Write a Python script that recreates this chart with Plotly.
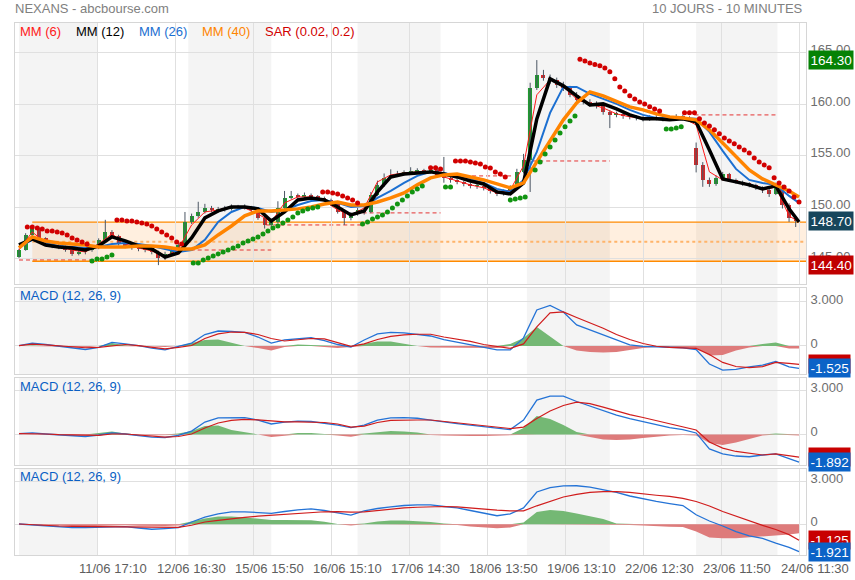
import plotly.graph_objects as go

# ---------------- DATA ----------------
# 10-minute bar index (0 = first bar of 11/06); candles aggregated every 4 bars
candle_bar = list(range(0, 472, 4))
opens = [145.20, 145.87, 147.33, 148.01, 147.04, 146.46, 146.26, 146.17, 145.87, 145.49,
         145.68, 145.87, 146.07, 146.85, 147.62, 147.23, 146.46, 146.26, 146.07, 145.97,
         145.87, 145.68, 145.10, 145.49, 145.87, 146.36, 148.59, 149.18, 149.56, 149.95,
         149.76, 149.76, 149.86, 150.05, 149.95, 150.05, 149.76, 148.98, 148.30, 148.59,
         149.95, 150.92, 151.12, 151.02, 151.22, 151.02, 150.92, 150.73, 150.34, 149.56,
         148.98, 149.37, 149.76, 149.56, 151.22, 152.19, 152.87, 153.06, 153.25, 153.35,
         153.45, 153.55, 153.45, 153.64, 153.16, 152.87, 152.67, 152.48, 152.28, 152.09,
         152.09, 151.90, 151.60, 151.31, 151.51, 151.90, 153.45, 154.61, 161.61, 162.87,
         162.58, 162.38, 161.90, 161.61, 160.93, 160.44, 160.25, 160.05, 159.86, 159.27,
         158.98, 159.08, 158.89, 158.79, 158.69, 158.60, 158.69, 158.69, 158.60, 158.69,
         158.79, 158.69, 155.78, 154.13, 152.67, 152.28, 152.87, 153.25, 152.67, 152.48,
         152.28, 152.19, 151.90, 151.70, 151.31, 152.09, 150.24, 148.98]
highs = [146.00, 147.50, 148.25, 148.10, 147.10, 146.60, 146.45, 146.30, 146.00, 145.85,
         146.05, 146.25, 147.00, 148.80, 147.80, 147.35, 146.60, 146.40, 146.25, 146.15,
         146.00, 145.80, 145.70, 146.05, 146.60, 149.56, 149.40, 150.55, 150.35, 150.15,
         150.05, 150.15, 150.30, 150.25, 150.30, 150.15, 149.85, 149.10, 148.90, 150.60,
         151.60, 151.60, 151.35, 151.45, 151.35, 151.20, 151.05, 150.85, 150.45, 149.70,
         149.55, 149.95, 150.00, 151.50, 152.60, 153.30, 153.70, 153.55, 153.60, 153.90,
         153.80, 153.75, 153.95, 153.75, 154.90, 153.00, 152.80, 152.60, 152.40, 152.35,
         152.20, 152.05, 151.70, 151.75, 152.15, 153.75, 155.20, 162.10, 164.30, 163.35,
         162.90, 162.60, 162.20, 161.80, 161.20, 160.70, 160.50, 160.30, 160.00, 159.45,
         159.30, 159.25, 159.10, 158.95, 158.90, 158.95, 158.95, 158.90, 158.90, 159.05,
         159.00, 158.85, 156.30, 154.40, 152.90, 153.10, 153.45, 153.35, 152.80, 152.60,
         152.45, 152.30, 152.05, 151.80, 152.40, 152.20, 150.40, 149.10]
lows = [145.10, 145.80, 147.20, 146.90, 146.30, 146.05, 145.95, 145.70, 145.30, 145.35,
        145.45, 145.70, 145.95, 146.70, 147.00, 146.30, 146.05, 145.90, 145.75, 145.65,
        145.45, 144.40, 144.90, 145.35, 145.70, 146.20, 148.40, 149.00, 149.40, 149.55,
        149.50, 149.60, 149.70, 149.75, 149.80, 149.55, 148.80, 147.95, 148.10, 148.45,
        149.85, 150.80, 150.80, 150.90, 150.85, 150.70, 150.55, 150.15, 149.40, 148.30,
        148.75, 149.20, 149.30, 149.45, 151.10, 152.00, 152.75, 152.95, 153.10, 153.15,
        153.30, 153.25, 153.30, 152.95, 152.40, 152.40, 152.25, 152.05, 151.85, 151.80,
        151.65, 151.35, 151.10, 151.15, 151.35, 151.80, 153.30, 151.50, 161.40, 162.30,
        162.00, 161.60, 161.30, 160.70, 160.20, 160.00, 159.80, 159.60, 159.00, 157.70,
        158.75, 158.60, 158.55, 158.45, 158.35, 158.40, 158.45, 158.35, 158.45, 158.55,
        158.45, 158.30, 153.40, 152.00, 152.00, 152.10, 152.70, 152.50, 152.30, 152.10,
        151.95, 151.70, 151.40, 151.02, 151.20, 149.90, 148.60, 148.10]
closes = [145.87, 147.33, 148.01, 147.04, 146.46, 146.26, 146.17, 145.87, 145.49, 145.68,
          145.87, 146.07, 146.85, 147.62, 147.23, 146.46, 146.26, 146.07, 145.97, 145.87,
          145.68, 145.10, 145.49, 145.87, 146.36, 148.59, 149.18, 149.56, 149.95, 149.76,
          149.76, 149.86, 150.05, 149.95, 150.05, 149.76, 148.98, 148.30, 148.59, 149.95,
          150.92, 151.12, 151.02, 151.22, 151.02, 150.92, 150.73, 150.34, 149.56, 148.98,
          149.37, 149.76, 149.56, 151.22, 152.19, 152.87, 153.06, 153.25, 153.35, 153.45,
          153.55, 153.45, 153.64, 153.16, 152.87, 152.67, 152.48, 152.28, 152.09, 152.09,
          151.90, 151.60, 151.31, 151.51, 151.90, 153.45, 154.61, 161.61, 162.87, 162.58,
          162.38, 161.90, 161.61, 160.93, 160.44, 160.25, 160.05, 159.86, 159.27, 158.98,
          159.08, 158.89, 158.79, 158.69, 158.60, 158.69, 158.69, 158.60, 158.69, 158.79,
          158.69, 158.50, 154.13, 152.67, 152.28, 152.87, 153.25, 152.67, 152.48, 152.28,
          152.19, 151.90, 151.70, 151.31, 152.09, 150.24, 148.98, 148.70]

# indicator samples every 8 bars
line_bar = list(range(0, 465, 8)) + [470]
mm6 = [145.87, 147.62, 146.55, 146.17, 145.87, 145.68, 146.46, 147.43, 146.46, 146.07,
       145.78, 145.19, 145.97, 148.30, 149.56, 149.76, 150.05, 149.95, 149.37, 148.59,
       150.44, 151.02, 151.02, 150.63, 149.76, 149.27, 149.95, 152.48, 153.16, 153.35,
       153.45, 153.45, 152.96, 152.57, 152.19, 151.90, 151.41, 151.70, 154.03, 160.93,
       162.38, 161.70, 160.53, 160.05, 159.66, 159.08, 158.79, 158.69, 158.69, 158.69,
       158.69, 158.01, 153.45, 152.67, 152.48, 152.19, 151.70, 151.99, 149.18, 148.59]
mm12 = [146.36, 146.94, 146.36, 146.17, 146.07, 145.87, 146.26, 147.14, 146.75, 146.26,
        145.97, 145.19, 145.58, 147.04, 148.98, 149.66, 150.05, 150.05, 149.86, 148.69,
        149.56, 150.73, 150.92, 150.73, 150.05, 149.27, 149.66, 151.51, 152.96, 153.25,
        153.35, 153.45, 153.25, 152.96, 152.57, 152.28, 151.51, 151.31, 152.38, 158.60,
        162.48, 161.80, 160.83, 159.95, 160.05, 159.56, 158.98, 158.60, 158.60, 158.50,
        158.60, 158.30, 155.58, 152.77, 152.48, 152.19, 151.80, 152.09, 149.86, 148.59]
mm26 = [146.17, 146.85, 146.55, 146.26, 146.17, 146.07, 146.17, 146.46, 146.55, 146.46,
        146.26, 145.97, 145.68, 145.87, 146.85, 148.59, 149.56, 150.05, 149.95, 149.56,
        149.76, 150.24, 150.63, 150.73, 150.44, 150.05, 150.15, 150.92, 151.60, 152.38,
        153.06, 153.45, 153.35, 153.06, 152.77, 152.38, 151.80, 151.51, 152.67, 155.39,
        159.18, 161.70, 161.70, 161.02, 160.53, 160.05, 159.47, 158.98, 158.69, 158.69,
        158.69, 158.60, 157.33, 155.49, 153.74, 152.67, 152.38, 152.19, 151.12, 150.44]
mm40 = [146.07, 147.14, 146.75, 146.55, 146.46, 146.36, 146.17, 146.17, 146.17, 146.26,
        146.26, 146.17, 145.97, 145.97, 146.36, 147.33, 148.20, 149.18, 149.66, 149.66,
        149.76, 149.86, 150.05, 150.34, 150.53, 150.24, 150.24, 150.53, 150.92, 151.41,
        152.19, 152.87, 153.16, 153.25, 152.96, 152.67, 152.28, 151.90, 152.38, 154.42,
        156.36, 158.50, 160.15, 161.21, 160.83, 160.34, 159.76, 159.47, 159.08, 158.79,
        158.69, 158.50, 157.53, 156.26, 155.00, 153.64, 152.77, 152.19, 151.60, 151.02]

sar_red_bar = [5, 8, 11, 14, 17, 20, 23, 26, 29, 32, 35, 38, 41,
               59, 62, 65, 68, 71, 74, 77, 80, 83, 86, 89, 92, 95, 98,
               183, 186, 189, 192, 195, 198, 201, 204,
               248, 251, 254,
               263, 266, 269, 272, 275, 278, 281, 284, 287, 290, 293,
               338, 341, 344, 347, 350, 353, 356, 359, 362, 365, 368, 371, 374, 377, 380, 383, 386,
               401, 404, 407, 410, 413, 416, 419, 422, 425, 428, 431, 434, 437, 440, 443, 446,
               449, 452, 455, 458, 461, 464, 467, 470]
sar_red = [148.11, 148.11, 148.01, 147.91, 147.72, 147.72, 147.62, 147.52, 147.33, 147.04, 146.85, 146.65, 146.46,
           148.79, 148.79, 148.69, 148.69, 148.59, 148.50, 148.40, 148.20, 147.91, 147.62, 147.33, 147.04, 146.65, 146.46,
           151.51, 151.51, 151.41, 151.31, 151.12, 150.92, 150.73, 150.44,
           153.84, 153.84, 153.74,
           154.51, 154.51, 154.51, 154.42, 154.32, 154.22, 153.93, 153.83, 153.45, 153.25, 152.96,
           164.37, 164.22, 164.03, 163.88, 163.74, 163.54, 163.16, 162.48, 161.70, 161.31, 160.83, 160.53,
           160.24, 160.05, 159.76, 159.56, 159.37,
           159.18, 159.18, 159.18, 158.60, 158.20, 157.91, 157.53, 157.14, 156.75, 156.46, 156.17, 155.87,
           155.58, 155.29, 154.81, 154.42, 154.13, 153.84, 152.87, 152.38, 151.99, 151.60, 151.02, 150.53]
sar_green_bar = [44, 47, 50, 53, 56,
                 105, 108, 111, 114, 117, 120, 123, 126, 129, 132, 135, 138, 141, 144, 147, 150, 153,
                 156, 159, 162, 165, 168, 171, 174, 177, 180,
                 207, 210, 213, 216, 219, 222, 225, 228, 231, 234, 237, 240, 243,
                 257, 260,
                 296, 299, 302, 305,
                 311, 314, 317, 320, 323, 326, 329, 332, 335,
                 390, 393, 396, 399]
sar_green = [144.80, 145.00, 145.00, 145.19, 145.39,
             144.61, 144.61, 144.90, 145.10, 145.29, 145.49, 145.68, 145.87, 146.07, 146.26, 146.55, 146.75,
             146.94, 147.14, 147.43, 147.72, 148.01, 148.20, 148.50, 148.79, 149.08, 149.47, 149.66, 149.86,
             149.95, 150.05,
             148.40, 148.59, 148.88, 149.08, 149.27, 149.56, 149.95, 150.34, 150.73, 151.12, 151.51, 151.80, 152.09,
             151.99, 151.99,
             150.73, 150.83, 150.92, 151.02,
             153.64, 154.42, 155.19, 155.87, 156.55, 157.23, 157.82, 158.40, 158.88,
             157.62, 157.62, 157.72, 157.82]

# MACD panels (12, 26, 9)
macd1 = [0.02, 0.20, 0.10, -0.03, -0.12, -0.24, -0.10, 0.24, 0.14, 0.03,
         -0.14, -0.27, -0.03, 0.20, 0.78, 1.02, 0.99, 0.92, 0.61, 0.20,
         0.41, 0.48, 0.56, 0.37, 0.10, -0.07, 0.41, 0.82, 0.92, 0.89,
         0.78, 0.68, 0.44, 0.27, 0.10, -0.05, -0.27, -0.27, 0.55, 2.45,
         2.76, 2.32, 1.43, 1.09, 0.75, 0.41, 0.07, -0.03, -0.07, -0.09,
         -0.12, -0.24, -1.23, -1.64, -1.60, -1.43, -1.30, -1.06, -1.43, -1.525]
sig1 = [0.02, 0.12, 0.07, 0.02, -0.05, -0.12, -0.10, 0.00, 0.10, 0.03,
        -0.10, -0.20, -0.10, 0.03, 0.51, 0.82, 0.95, 0.92, 0.78, 0.51,
        0.34, 0.44, 0.51, 0.48, 0.24, -0.03, 0.14, 0.44, 0.65, 0.76,
        0.80, 0.80, 0.61, 0.48, 0.31, 0.10, -0.05, -0.16, 0.14, 1.30,
        2.25, 2.32, 1.94, 1.57, 1.21, 0.78, 0.44, 0.17, -0.02, -0.09,
        -0.12, -0.17, -0.58, -1.12, -1.40, -1.47, -1.41, -1.12, -1.18, -1.26]
hist1 = [0, 0.03, 0, -0.03, -0.07, -0.10, 0, 0.20, 0.03, 0,
         -0.03, -0.07, 0, 0.20, 0.41, 0.44, 0.24, 0, -0.14, -0.31,
         -0.07, 0.10, 0.07, -0.07, -0.14, -0.07, 0.17, 0.31, 0.31, 0.17,
         0, -0.10, -0.10, -0.10, -0.10, -0.10, -0.14, 0.14, 0.55, 1.30,
         0.68, 0, -0.31, -0.41, -0.44, -0.41, -0.27, -0.14, -0.07, -0.07,
         -0.10, -0.14, -0.65, -0.61, -0.31, -0.10, 0.14, 0.24, -0.17, -0.17]
macd2 = [0.06, 0.10, 0.03, -0.04, -0.07, -0.14, -0.04, 0.10, 0.03, -0.07,
         -0.18, -0.21, -0.07, 0.23, 0.84, 1.12, 1.15, 1.14, 0.98, 0.71,
         0.84, 0.91, 0.88, 0.78, 0.64, 0.47, 0.64, 0.98, 1.12, 1.14,
         1.10, 0.98, 0.84, 0.74, 0.64, 0.54, 0.44, 0.33, 0.98, 2.34,
         2.61, 2.61, 2.24, 1.93, 1.63, 1.32, 1.08, 0.88, 0.64, 0.47,
         0.33, 0.10, -0.99, -1.33, -1.47, -1.52, -1.40, -1.33, -1.64, -1.892]
sig2 = [0.06, 0.06, 0.03, -0.01, -0.04, -0.09, -0.07, 0.03, 0.03, -0.04,
        -0.13, -0.18, -0.14, 0.03, 0.44, 0.78, 0.95, 1.03, 0.99, 0.91,
        0.86, 0.86, 0.84, 0.81, 0.71, 0.50, 0.57, 0.81, 0.95, 0.98,
        0.98, 0.98, 0.88, 0.81, 0.71, 0.61, 0.48, 0.40, 0.50, 1.08,
        1.59, 1.97, 2.20, 2.10, 1.86, 1.59, 1.35, 1.15, 0.95, 0.74,
        0.54, 0.30, -0.52, -0.93, -1.16, -1.30, -1.40, -1.33, -1.47, -1.54]
hist2 = [0, 0, 0, -0.04, -0.07, -0.07, 0.10, 0.20, 0.06, -0.04,
         -0.07, -0.04, 0.06, 0.23, 0.57, 0.61, 0.30, 0.16, 0, -0.18,
         -0.07, 0.10, 0.10, 0.03, -0.07, -0.16, 0.06, 0.16, 0.23, 0.20,
         0.13, -0.04, -0.07, -0.11, -0.11, -0.11, -0.07, -0.04, 0.44, 1.25,
         1.05, 0.64, 0.16, -0.18, -0.35, -0.38, -0.35, -0.24, -0.14, -0.07,
         -0.04, -0.07, -0.59, -0.72, -0.55, -0.31, -0.07, 0.06, -0.04, -0.07]
macd3 = [0.02, -0.05, -0.12, -0.15, -0.23, -0.24, -0.21, -0.19, -0.17, -0.26,
         -0.35, -0.30, -0.24, 0.16, 0.51, 0.74, 0.87, 0.88, 0.81, 0.77,
         0.90, 1.02, 1.08, 0.97, 0.80, 0.65, 0.94, 1.11, 1.22, 1.32,
         1.36, 1.36, 1.25, 1.15, 0.97, 0.76, 0.60, 0.73, 1.15, 2.27,
         2.58, 2.70, 2.71, 2.61, 2.45, 2.24, 1.99, 1.78, 1.61, 1.46,
         1.32, 0.67, 0.23, -0.12, -0.51, -0.82, -0.99, -1.32, -1.62, -1.921]
sig3 = [0.02, -0.04, -0.08, -0.12, -0.14, -0.15, -0.17, -0.17, -0.17, -0.17,
        -0.19, -0.20, -0.21, -0.07, 0.16, 0.28, 0.41, 0.49, 0.57, 0.63,
        0.71, 0.77, 0.83, 0.88, 0.89, 0.85, 0.87, 0.97, 1.06, 1.15,
        1.20, 1.24, 1.25, 1.22, 1.13, 1.04, 0.99, 0.94, 0.94, 1.30,
        1.61, 1.92, 2.10, 2.25, 2.30, 2.30, 2.24, 2.12, 2.04, 1.96,
        1.82, 1.60, 1.29, 0.90, 0.58, 0.21, -0.08, -0.37, -0.73, -1.125]
hist3 = [0, -0.04, -0.05, -0.08, -0.12, -0.14, -0.12, -0.08, -0.07, -0.11,
         -0.14, -0.12, -0.08, 0.20, 0.41, 0.55, 0.55, 0.48, 0.37, 0.30,
         0.30, 0.30, 0.28, 0.18, 0.02, -0.08, 0.06, 0.20, 0.27, 0.27,
         0.23, 0.16, 0.06, -0.05, -0.15, -0.23, -0.28, -0.23, 0.13, 0.87,
         1.01, 0.94, 0.76, 0.55, 0.37, 0.05, -0.05, -0.08, -0.15, -0.17,
         -0.19, -0.50, -0.93, -0.99, -0.99, -0.93, -0.87, -0.79, -0.72, -0.63]

tick_bar = [47, 94, 141, 188, 235, 282, 329, 376, 423, 470]
tick_labels = ["11/06 17:10", "12/06 16:30", "15/06 15:50", "16/06 15:10", "17/06 14:30",
               "18/06 13:50", "19/06 13:10", "22/06 12:30", "23/06 11:50", "24/06 11:30"]
day_start = [0, 47, 102, 152, 204, 254, 306, 356, 408, 457]
price_ticks = [145, 150, 155, 160, 165]

band_start = 8
band_low = 144.78
band_high = 148.57

level_price = [144.90, 145.87, 148.30, 149.47, 153.06, 154.51, 158.98]
level_from = [0, 95, 149, 207, 273, 305, 407]
level_to = [43, 152, 207, 254, 297, 356, 457]

for arr in (opens, highs, lows, closes):
    assert len(arr) == len(candle_bar)
for arr in (mm6, mm12, mm26, mm40, macd1, sig1, hist1, macd2, sig2, hist2, macd3, sig3, hist3):
    assert len(arr) == len(line_bar), len(arr)
assert len(sar_red) == len(sar_red_bar) and len(sar_green) == len(sar_green_bar)

# ---------------- FIGURE ----------------
FONT = "Arial, 'Liberation Sans', sans-serif"
X_RANGE = [-2.41, 474.2]
GRID = "#e0e0e0"
BORDER = "#d6d6d6"

fig = go.Figure()

# candles: wicks + bodies
wx, wy = [], []
for b, h, l in zip(candle_bar, highs, lows):
    wx += [b, b, None]
    wy += [l, h, None]
fig.add_trace(go.Scatter(x=wx, y=wy, mode="lines", line=dict(color="#4b5663", width=1),
                         hoverinfo="skip", xaxis="x", yaxis="y"))
body_base = [min(o, c) for o, c in zip(opens, closes)]
body_h = [max(abs(c - o), 0.05) for o, c in zip(opens, closes)]
body_col = ["#1f9a2e" if c >= o else "#d12a2a" for o, c in zip(opens, closes)]
fig.add_trace(go.Bar(x=candle_bar, y=body_h, base=body_base, width=2.4,
                     marker=dict(color=body_col, line=dict(width=0)), xaxis="x", yaxis="y"))

# moving averages
fig.add_trace(go.Scatter(x=line_bar, y=mm6, mode="lines", line=dict(color="#ff1a1a", width=1),
                         xaxis="x", yaxis="y"))
fig.add_trace(go.Scatter(x=line_bar, y=mm26, mode="lines", line=dict(color="#1b6fd1", width=2),
                         xaxis="x", yaxis="y"))
fig.add_trace(go.Scatter(x=line_bar, y=mm12, mode="lines", line=dict(color="#000000", width=3.5),
                         xaxis="x", yaxis="y"))
fig.add_trace(go.Scatter(x=line_bar, y=mm40, mode="lines", line=dict(color="#ff8400", width=3.5),
                         xaxis="x", yaxis="y"))
# SAR
fig.add_trace(go.Scatter(x=sar_red_bar, y=sar_red, mode="markers",
                         marker=dict(color="#d10000", size=5), xaxis="x", yaxis="y"))
fig.add_trace(go.Scatter(x=sar_green_bar, y=sar_green, mode="markers",
                         marker=dict(color="#119411", size=5), xaxis="x", yaxis="y"))


def macd_panel(macd, sig, hist, xa, ya):
    pos = [max(v, 0) for v in hist]
    neg = [min(v, 0) for v in hist]
    fig.add_trace(go.Scatter(x=line_bar, y=pos, mode="lines", fill="tozeroy", line=dict(width=0),
                             fillcolor="#74b874", xaxis=xa, yaxis=ya))
    fig.add_trace(go.Scatter(x=line_bar, y=neg, mode="lines", fill="tozeroy", line=dict(width=0),
                             fillcolor="#de7b7b", xaxis=xa, yaxis=ya))
    fig.add_trace(go.Scatter(x=line_bar, y=macd, mode="lines", line=dict(color="#2473d6", width=1.3),
                             xaxis=xa, yaxis=ya))
    fig.add_trace(go.Scatter(x=line_bar, y=sig, mode="lines", line=dict(color="#d01c1c", width=1.2),
                             xaxis=xa, yaxis=ya))


macd_panel(macd1, sig1, hist1, "x2", "y2")
macd_panel(macd2, sig2, hist2, "x3", "y3")
macd_panel(macd3, sig3, hist3, "x4", "y4")

# shapes
shapes = []
panels = [("x", "y"), ("x2", "y2"), ("x3", "y3"), ("x4", "y4")]
for d in range(0, len(day_start) - 1, 2):
    for xr, yr in panels:
        shapes.append(dict(type="rect", xref=xr, yref=yr + " domain", x0=day_start[d], x1=day_start[d + 1],
                           y0=0, y1=1, fillcolor="#f4f4f4", line=dict(width=0), layer="below"))
shapes.append(dict(type="rect", xref="x", yref="y", x0=band_start, x1=X_RANGE[1], y0=band_low, y1=band_high,
                   fillcolor="rgba(255,150,40,0.15)", line=dict(width=0), layer="below"))
for p, x0, x1 in zip(level_price, level_from, level_to):
    shapes.append(dict(type="line", xref="x", yref="y", x0=x0, x1=x1, y0=p, y1=p,
                       line=dict(color="#e43232", width=1, dash="4px,3px"), layer="below"))
for p in (band_low, band_high):
    shapes.append(dict(type="line", xref="x", yref="y", x0=band_start, x1=X_RANGE[1], y0=p, y1=p,
                       line=dict(color="#ff8a00", width=1.3), layer="below"))
mid = (band_low + band_high) / 2
shapes.append(dict(type="line", xref="x", yref="y", x0=band_start, x1=X_RANGE[1], y0=mid, y1=mid,
                   line=dict(color="#ffb46a", width=2, dash="dot"), layer="below"))

# annotations
ann = []
ann.append(dict(text="NEXANS - abcbourse.com", xref="paper", yref="paper", x=-0.002, y=1.028,
                xanchor="left", yanchor="middle", showarrow=False, font=dict(size=13, color="#808080")))
ann.append(dict(text="10 JOURS - 10 MINUTES", xref="paper", yref="paper", x=0.999, y=1.028,
                xanchor="right", yanchor="middle", showarrow=False, font=dict(size=13, color="#808080")))
legend_items = [("MM (6)", "#ff1a1a", 19), ("MM (12)", "#000000", 75), ("MM (26)", "#1b6fd1", 138),
                ("MM (40)", "#ff8400", 201), ("SAR (0.02, 0.2)", "#d10000", 264)]
for txt, col, px in legend_items:
    ann.append(dict(text=txt, xref="paper", yref="paper", x=(px - 16) / 791, y=(555 - 31) / 532,
                    xanchor="left", yanchor="middle", showarrow=False, font=dict(size=13, color=col)))
for ypx in (296, 386, 476):
    ann.append(dict(text="MACD (12, 26, 9)", xref="paper", yref="paper", x=(19 - 16) / 791, y=(555 - ypx) / 532,
                    xanchor="left", yanchor="middle", showarrow=False, font=dict(size=13, color="#0a5fc4")))
for tb, tl in zip(tick_bar, tick_labels):
    ann.append(dict(text=tl, xref="x4", yref="paper", x=tb, y=0, xshift=16, yshift=-4,
                    xanchor="center", yanchor="top", showarrow=False, font=dict(size=13, color="#5e5e5e")))


def value_box(val, yref, color, fmt):
    ann.append(dict(text=fmt.format(val), xref="paper", yref=yref, x=1.0, xshift=2, y=val,
                    xanchor="left", yanchor="middle", showarrow=False, bgcolor=color, borderpad=1.5,
                    font=dict(size=13.5, color="white")))


value_box(max(highs), "y", "#058205", "{:.2f}")
value_box(closes[-1], "y", "#17465c", "{:.2f}")
value_box(min(lows), "y", "#c00000", "{:.2f}")
value_box(sig1[-1], "y2", "#c80000", "{:.3f}")
value_box(macd1[-1], "y2", "#0b63c7", "{:.3f}")
value_box(sig2[-1], "y3", "#c80000", "{:.3f}")
value_box(macd2[-1], "y3", "#0b63c7", "{:.3f}")
value_box(sig3[-1], "y4", "#c80000", "{:.3f}")
value_box(macd3[-1], "y4", "#0b63c7", "{:.3f}")


def xax(anchor):
    return dict(domain=[0, 1], anchor=anchor, range=X_RANGE, tickvals=tick_bar, showticklabels=False,
                showgrid=True, gridcolor=GRID, gridwidth=1, showline=True, linecolor=BORDER, mirror=True,
                zeroline=False, ticks="", fixedrange=True, automargin=False)


def yax(anchor, dom, rng, tv, tt):
    return dict(domain=dom, anchor=anchor, side="right", range=rng, tickvals=tv, ticktext=tt,
                showgrid=True, gridcolor=GRID, showline=True, linecolor=BORDER, mirror=True,
                zeroline=False, ticks="", ticklabelstandoff=1, ticklabelshift=-3,
                tickfont=dict(size=13, color="#6e6e6e"), fixedrange=True, automargin=False)


fig.update_layout(
    width=855, height=580,
    margin=dict(l=15, r=49, t=23, b=25, autoexpand=False),
    paper_bgcolor="white", plot_bgcolor="white",
    font=dict(family=FONT, size=13, color="#555"),
    showlegend=False, bargap=0,
    xaxis=xax("y"), xaxis2=xax("y2"), xaxis3=xax("y3"), xaxis4=xax("y4"),
    yaxis=yax("x", [0.5094, 1.0], [142.57, 167.9], price_ticks, ["{:.2f}".format(v) for v in price_ticks]),
    yaxis2=yax("x2", [0.3402, 0.5019], [-1.91, 3.95], [0, 3], ["0", "3.000"]),
    yaxis3=yax("x3", [0.1692, 0.3327], [-2.08, 3.84], [0, 3], ["0", "3.000"]),
    yaxis4=yax("x4", [0.0, 0.1617], [-2.16, 3.89], [0, 3], ["0", "3.000"]),
    shapes=shapes, annotations=ann,
)

fig.write_html("out.html", config={"displayModeBar": False},
               post_script="document.body.style.margin='0';document.body.style.overflow='hidden';")
